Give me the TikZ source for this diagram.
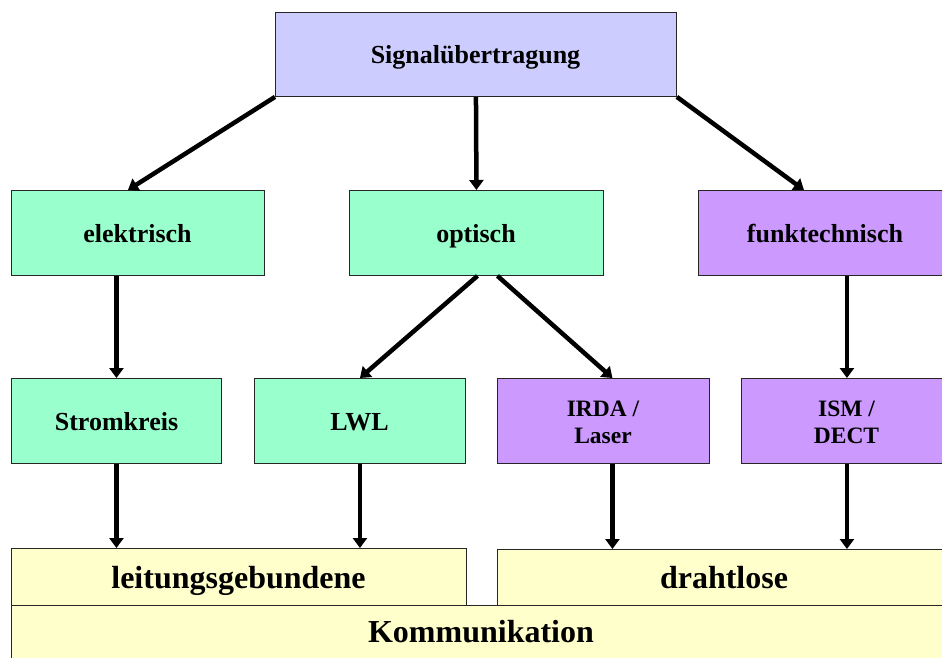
\documentclass[tikz,border=0pt]{standalone}
\usepackage{fontspec}
\setmainfont{Liberation Serif}
\usetikzlibrary{arrows.meta}
\definecolor{lav}{HTML}{CCCCFF}
\definecolor{mint}{HTML}{99FFCC}
\definecolor{lila}{HTML}{CC99FF}
\definecolor{creme}{HTML}{FFFFCC}
\begin{document}
\begin{tikzpicture}[x=1pt,y=-1pt,
  box/.style={draw=black!85, line width=0.9pt, inner sep=0pt, anchor=north west},
  txt/.style={anchor=base, inner sep=0pt, font=\bfseries\fontsize{26}{30}\selectfont},
  txts/.style={anchor=base, inner sep=0pt, font=\bfseries\fontsize{23.5}{27}\selectfont},
  txtl/.style={anchor=base, inner sep=0pt, font=\bfseries\fontsize{32}{36}\selectfont},
  arr/.style={line width=4.5pt, -{Triangle[length=10pt,width=14pt]}}
]
\useasboundingbox (0,0) rectangle (942,657);
\clip (0,0) rectangle (942,657);
% boxes
\node[box, fill=lav,  minimum width=401pt, minimum height=84pt] (sig) at (275,12) {};
\node[box, fill=mint, minimum width=253pt, minimum height=85pt] (el) at (11,190) {};
\node[box, fill=mint, minimum width=254pt, minimum height=85pt] (opt) at (349,190) {};
\node[box, fill=lila, minimum width=253pt, minimum height=85pt] (funk) at (698,190) {};
\node[box, fill=mint, minimum width=210pt, minimum height=85pt] (str) at (11,378) {};
\node[box, fill=mint, minimum width=211pt, minimum height=85pt] (lwl) at (254,378) {};
\node[box, fill=lila, minimum width=212pt, minimum height=85pt] (irda) at (497,378) {};
\node[box, fill=lila, minimum width=211pt, minimum height=85pt] (ism) at (741,378) {};
\node[box, fill=creme, minimum width=455pt, minimum height=57pt] (leit) at (11,548) {};
\node[box, fill=creme, minimum width=454pt, minimum height=56pt] (draht) at (497,549) {};
\node[box, fill=creme, minimum width=940pt, minimum height=60pt] (komm) at (11,605) {};
% texts
\node[txt] (sigt) at (475.5,63) {Signalübertragung};
\node[txt] (elt) at (137.5,242) {elektrisch};
\node[txt] (optt) at (476,242) {optisch};
\node[txt] (funkt) at (825,242) {funktechnisch};
\node[txt] (strt) at (116.5,430) {Stromkreis};
\node[txt] (lwlt) at (359.5,430) {LWL};
\node[txts] (irdat1) at (603,416) {IRDA /};
\node[txts] (irdat2) at (603,443) {Laser};
\node[txts] (ismt1) at (846.5,416) {ISM /};
\node[txts] (ismt2) at (846.5,443) {DECT};
\node[txtl] (leitt) at (238.5,588) {leitungsgebundene};
\node[txtl] (drahtt) at (724,588) {drahtlose};
\node[txtl] (kommt) at (481,642) {Kommunikation};
% arrows
\draw[arr] (sig.south west) -- ([xshift=-10pt]el.north);
\draw[arr] (sig.south) -- (opt.north);
\draw[arr] (sig.south east) -- ([xshift=-21pt]funk.north);
\draw[arr] (el.south -| str.north) -- (str.north);
\draw[arr] ([xshift=1pt]opt.south) -- (lwl.north);
\draw[arr] ([xshift=21pt]opt.south) -- ([xshift=9pt]irda.north);
\draw[arr] (funk.south -| ism.north) -- (ism.north);
\draw[arr] (str.south) -- (str.south |- leit.north);
\draw[arr] (lwl.south) -- (lwl.south |- leit.north);
\draw[arr] ([xshift=9pt]irda.south) -- ([xshift=9pt]irda.south |- draht.north);
\draw[arr] (ism.south) -- (ism.south |- draht.north);
\end{tikzpicture}
\end{document}
